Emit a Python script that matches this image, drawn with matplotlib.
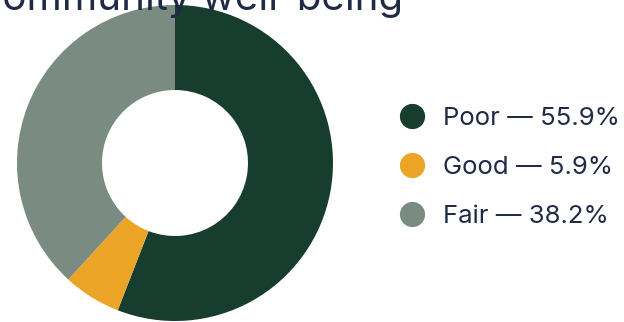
import matplotlib.pyplot as plt
import matplotlib as mpl

mpl.rcParams['font.family'] = ['Inter', 'DejaVu Sans']

categories = ["Poor", "Good", "Fair"]
shares = [55.9, 5.9, 38.2]
colors = ["#173d2f", "#eca426", "#7a8c82"]
title = "Community well-being"
text_color = "#1f2a44"

W, H = 624, 322
fig = plt.figure(figsize=(W / 100, H / 100), dpi=100)

# donut
cx, cy, r = 175, 163, 158
ax = fig.add_axes([(cx - r) / W, (H - cy - r) / H, 2 * r / W, 2 * r / H])
ax.pie(shares, colors=colors, startangle=90, counterclock=False,
       wedgeprops=dict(width=1 - 73 / 158, linewidth=0))
ax.set_xlim(-1, 1)
ax.set_ylim(-1, 1)
ax.set_aspect('equal')
ax.axis('off')

# overlay for title and legend, in pixel coordinates
ov = fig.add_axes([0, 0, 1, 1], zorder=5)
ov.set_xlim(0, W)
ov.set_ylim(H, 0)
ov.axis('off')

ov.text(403, 10, title, ha='right', va='baseline', fontsize=29, color=text_color)

ys = [116, 165, 214]
for cat, val, col, y in zip(categories, shares, colors, ys):
    ov.scatter([412], [y], s=330, color=col, linewidths=0)
    ov.text(443, y, f"{cat} \u2014 {val:.1f}%", ha='left', va='center_baseline',
            fontsize=18.5, color=text_color)

fig.savefig("out.png", dpi=100)
